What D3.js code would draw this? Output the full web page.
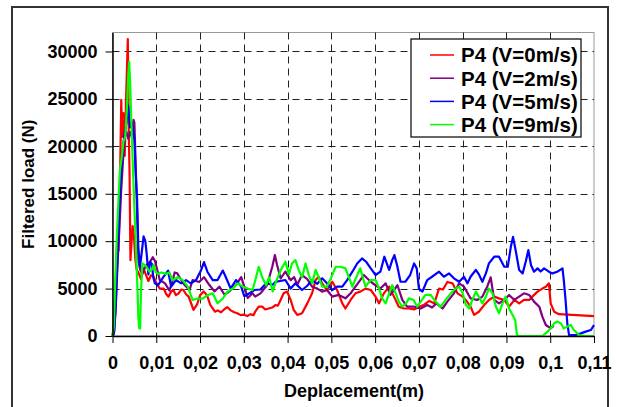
<!DOCTYPE html>
<html>
<head>
<meta charset="utf-8">
<script src="https://cdn.jsdelivr.net/npm/d3@7"></script>
<style>
  body { margin: 0; background: white; }
  text { font-family: "Liberation Sans", Arial, sans-serif; font-weight: bold; fill: black; }
</style>
</head>
<body>
<svg id="chart" width="618" height="407"></svg>
<script>
// values: [deplacement (m), filtered load (N)]
var seriesNames = ["P4 (V=0m/s)", "P4 (V=2m/s)", "P4 (V=5m/s)", "P4 (V=9m/s)"];
var seriesColors = ["#ff0000", "#800080", "#0000ff", "#00ff00"];

var xTicks = [0, 0.01, 0.02, 0.03, 0.04, 0.05, 0.06, 0.07, 0.08, 0.09, 0.1, 0.11];
var xTickLabels = ["0", "0,01", "0,02", "0,03", "0,04", "0,05", "0,06", "0,07", "0,08", "0,09", "0,1", "0,11"];
var yTicks = [0, 5000, 10000, 15000, 20000, 25000, 30000];

var v0 = [[0,0],[0.0004,1500],[0.0008,6000],[0.0011,10500],[0.0014,9000],[0.0017,16000],[0.002,24900],[0.0022,21000],
  [0.0025,23500],[0.0028,19000],[0.0031,25000],[0.0035,31300],[0.0037,22000],[0.0039,17000],[0.0041,8000],[0.0043,9500],
  [0.0046,11600],[0.0049,10500],[0.0052,8200],[0.0055,7000],[0.006,6600],[0.0065,6000],[0.007,7200],[0.0076,6500],
  [0.0082,5800],[0.0088,6400],[0.0094,6260],[0.01,5600],[0.0108,5000],[0.0117,5000],[0.0123,4400],[0.0128,4150],
  [0.0134,4700],[0.0139,4850],[0.0145,4300],[0.0151,4500],[0.0157,4900],[0.0162,4850],[0.0168,4400],[0.0174,4150],
  [0.018,3400],[0.0185,2750],[0.0193,3300],[0.02,4300],[0.0208,4700],[0.0216,4300],[0.0223,3300],[0.0234,2560],
  [0.024,2700],[0.0248,2500],[0.0255,2800],[0.0262,3050],[0.027,2700],[0.0278,2500],[0.0285,2400],[0.0293,2200],
  [0.03,2250],[0.0308,2100],[0.0315,2300],[0.0322,2200],[0.0326,2560],[0.0334,3100],[0.0342,3090],[0.0349,2800],
  [0.0357,2900],[0.0365,3000],[0.0372,3260],[0.0378,3200],[0.0384,3800],[0.0391,4500],[0.0399,4680],[0.0407,3800],
  [0.0414,2750],[0.0422,2220],[0.0433,2400],[0.0445,3440],[0.0456,4500],[0.0464,5900],[0.0471,6250],[0.0479,5550],
  [0.049,4850],[0.0502,5720],[0.0513,4850],[0.0525,3440],[0.0532,2900],[0.0544,3800],[0.0555,4500],[0.0566,4680],
  [0.0578,5000],[0.059,4850],[0.0601,4150],[0.0609,3440],[0.062,4500],[0.0632,5200],[0.0643,4150],[0.0654,3090],
  [0.0666,2900],[0.0677,2900],[0.0689,2800],[0.07,3090],[0.0712,3300],[0.0724,3700],[0.0735,3440],[0.0746,5000],
  [0.0755,4900],[0.0765,5700],[0.0777,5550],[0.0788,4500],[0.08,4150],[0.0807,3800],[0.0818,3090],[0.0826,2220],
  [0.0837,2560],[0.0849,3260],[0.086,3800],[0.0872,4150],[0.0883,3970],[0.0895,3800],[0.0906,3090],[0.0918,3800],
  [0.0929,3440],[0.094,3800],[0.0952,3800],[0.0959,4150],[0.0971,4680],[0.0982,5000],[0.099,5200],[0.0997,5550],
  [0.1001,3440],[0.1009,2560],[0.102,2300],[0.105,2220],[0.11,2100]];

var v2 = [[0,0],[0.0003,200],[0.0007,2500],[0.001,6000],[0.0013,9000],[0.0017,12600],[0.002,15500],[0.0024,18500],
  [0.0028,21000],[0.0032,21500],[0.0036,20800],[0.004,21500],[0.0044,21000],[0.0048,22800],[0.005,22500],[0.0053,18000],
  [0.0056,13300],[0.0059,8000],[0.0063,7000],[0.0068,6500],[0.0074,7200],[0.008,7600],[0.0086,7840],[0.0092,8300],
  [0.0097,7900],[0.0101,7200],[0.0108,5900],[0.012,5550],[0.013,4800],[0.0136,5600],[0.0142,6700],[0.0148,6600],
  [0.0153,6200],[0.0164,5400],[0.0176,4850],[0.0183,5900],[0.0198,5700],[0.0209,6200],[0.0221,5400],[0.0233,4700],
  [0.0244,5200],[0.0256,4350],[0.0267,4700],[0.0282,5400],[0.0294,6200],[0.0301,5200],[0.0309,4000],[0.032,4500],
  [0.0326,4150],[0.0338,4500],[0.0353,5350],[0.0365,7300],[0.0371,8530],[0.0376,7480],[0.0384,6080],[0.0395,6780],
  [0.0407,5900],[0.0415,6200],[0.0422,5400],[0.0433,6430],[0.0445,6000],[0.0456,5200],[0.0468,5000],[0.0479,4680],
  [0.049,4850],[0.0502,4150],[0.0517,4330],[0.0532,3970],[0.0544,4500],[0.0555,5200],[0.0566,5900],[0.0574,6430],
  [0.059,5720],[0.0601,5350],[0.0612,5000],[0.0624,5550],[0.0635,4330],[0.0651,5350],[0.0662,3800],[0.0673,3090],
  [0.0689,3090],[0.0704,2900],[0.0719,3260],[0.073,3000],[0.074,3440],[0.0754,2900],[0.0765,3620],[0.078,4500],
  [0.0792,5550],[0.0803,5200],[0.0818,3970],[0.0833,3800],[0.0845,4150],[0.0856,5200],[0.0864,6180],[0.0872,3800],
  [0.0883,3440],[0.0895,3800],[0.0906,4330],[0.0918,3800],[0.0929,4150],[0.094,4500],[0.0952,4330],[0.0963,3620],
  [0.0975,3090],[0.0982,2040],[0.099,1160],[0.1001,810],[0.1008,1100]];

var v5 = [[0,0],[0.0004,500],[0.0008,4000],[0.0012,9000],[0.0016,14000],[0.002,17500],[0.0024,20000],[0.0028,21500],
  [0.0032,22500],[0.0036,24300],[0.004,22000],[0.0044,22500],[0.0048,21500],[0.005,20700],[0.0053,17000],[0.0056,14700],
  [0.0059,9300],[0.0063,7300],[0.0066,8500],[0.0071,10500],[0.0075,10000],[0.0078,8700],[0.0082,6500],[0.0086,7800],
  [0.009,7600],[0.0093,6200],[0.0097,5550],[0.0104,5350],[0.0116,6200],[0.0127,6900],[0.0134,5200],[0.0145,5900],
  [0.0157,5550],[0.0168,5900],[0.0179,5550],[0.0191,5900],[0.0202,6900],[0.0209,7800],[0.0217,6750],[0.0229,5900],
  [0.024,5900],[0.0252,6900],[0.0259,6200],[0.027,5000],[0.0282,5900],[0.0294,5200],[0.0301,4200],[0.0313,4500],
  [0.0324,4850],[0.0338,4900],[0.0351,5550],[0.0366,5400],[0.0372,5700],[0.0395,5900],[0.0407,5000],[0.0418,5550],
  [0.0433,4850],[0.0445,5300],[0.0456,5900],[0.0468,5500],[0.0479,6080],[0.049,5550],[0.0502,4850],[0.0513,5200],
  [0.0525,5200],[0.0536,5900],[0.0548,6780],[0.0559,7650],[0.057,8180],[0.058,7800],[0.059,7130],[0.0601,6430],
  [0.0612,6780],[0.0621,8360],[0.0632,6960],[0.0639,8000],[0.0644,8530],[0.065,7480],[0.0658,5720],[0.0669,5720],
  [0.068,6430],[0.0689,7650],[0.0695,7130],[0.07,5000],[0.0708,4680],[0.0719,5900],[0.073,6250],[0.0746,6780],
  [0.0757,6250],[0.0769,6600],[0.078,6080],[0.0792,5720],[0.0803,6250],[0.0811,5550],[0.0818,6250],[0.083,6960],
  [0.0837,6500],[0.0845,5720],[0.0853,6600],[0.086,7650],[0.0872,8360],[0.0883,8360],[0.0895,7300],[0.0903,7300],
  [0.091,9400],[0.0915,10450],[0.0921,9050],[0.0929,6960],[0.0937,6600],[0.0944,7830],[0.095,9050],[0.0956,7480],
  [0.0963,6780],[0.0971,7130],[0.0978,6800],[0.0986,7130],[0.0997,6780],[0.1005,6600],[0.1016,6780],[0.1028,7130],
  [0.1031,5900],[0.1035,3800],[0.1039,1340],[0.1043,100],[0.1058,100],[0.107,280],[0.1081,460],[0.1093,630],[0.11,1160]];

var v9 = [[0,0],[0.0003,1000],[0.0006,5550],[0.001,10500],[0.0014,14700],[0.0017,17500],[0.0021,18800],[0.0025,20500],
  [0.0029,21000],[0.0033,24000],[0.0036,27500],[0.0038,28900],[0.004,27000],[0.0042,24000],[0.0045,20000],[0.0047,17300],
  [0.005,13500],[0.0052,11200],[0.0055,7500],[0.0057,5000],[0.0059,2000],[0.0061,800],[0.0063,800],[0.0065,4500],
  [0.0068,7650],[0.0073,7500],[0.0078,7300],[0.0084,6800],[0.009,7000],[0.0094,7500],[0.0099,6700],[0.0104,6550],
  [0.0111,6700],[0.0122,6550],[0.013,6700],[0.0137,5900],[0.0149,6200],[0.016,5900],[0.0172,5200],[0.0183,3800],
  [0.0195,3950],[0.0206,3950],[0.0217,4300],[0.0229,4500],[0.024,3450],[0.0252,3950],[0.0263,4700],[0.0275,5000],
  [0.0286,5550],[0.0298,5200],[0.0309,5000],[0.032,4850],[0.0328,6200],[0.0334,7300],[0.0343,6080],[0.0351,5350],
  [0.0358,6200],[0.0366,4700],[0.0374,5800],[0.0385,7000],[0.0395,7830],[0.0403,6500],[0.041,7650],[0.0418,8000],
  [0.0425,7000],[0.0433,6200],[0.0441,7650],[0.0448,6500],[0.0456,5550],[0.0464,6960],[0.0471,6200],[0.0479,5200],
  [0.049,5200],[0.0498,6000],[0.051,7300],[0.0521,7300],[0.0532,7130],[0.054,6200],[0.0548,5200],[0.0555,6000],
  [0.0566,7130],[0.0578,5200],[0.059,5900],[0.0601,5900],[0.0609,5000],[0.0616,3970],[0.0624,3440],[0.0632,4500],
  [0.0639,5350],[0.0647,4500],[0.0654,3620],[0.0662,3090],[0.067,3400],[0.0677,3970],[0.0688,3800],[0.0696,3090],
  [0.0704,3620],[0.0715,4330],[0.0727,4330],[0.0738,3620],[0.075,3090],[0.0761,3800],[0.0773,4500],[0.0784,5000],
  [0.0792,5200],[0.08,4500],[0.0807,3300],[0.0815,2900],[0.0822,3800],[0.083,4680],[0.0837,4150],[0.0845,3440],
  [0.0853,4150],[0.086,5000],[0.0868,4500],[0.0876,3090],[0.0883,2400],[0.0891,3440],[0.0898,4150],[0.0906,2900],
  [0.0914,2220],[0.092,1690],[0.0924,100],[0.0929,0],[0.0982,0],[0.0994,460],[0.1001,810],[0.1009,1340],[0.1016,1520],
  [0.1024,1340],[0.1031,810],[0.1039,980],[0.1047,1160],[0.1054,630],[0.1066,100],[0.1081,0],[0.11,0]];

var allSeries = [v0, v2, v5, v9];

var svg = d3.select("#chart");
var plotLeft = 112.5, plotRight = 594, plotTop = 32.5, plotBottom = 336;

// outer frame
svg.append("rect")
    .attr("x", 12).attr("y", 7)
    .attr("width", 596).attr("height", 420)
    .attr("fill", "white")
    .style("stroke", "#333")
    .style("stroke-width", 2);

var x = d3.scaleLinear().domain([0, 0.11]).range([plotLeft, plotRight]);
var y = d3.scaleLinear().domain([0, 32000]).range([plotBottom, plotTop]);

// plot border
svg.append("rect")
    .attr("x", plotLeft).attr("y", plotTop)
    .attr("width", plotRight - plotLeft).attr("height", plotBottom - plotTop)
    .attr("fill", "white")
    .style("stroke", "#999")
    .style("stroke-width", 1);

// dashed grid
var grid = svg.append("g");
grid.selectAll(".vg").data(xTicks.slice(1, -1)).enter().append("line")
    .attr("x1", function(d) { return Math.round(x(d)) + 0.5; })
    .attr("x2", function(d) { return Math.round(x(d)) + 0.5; })
    .attr("y1", plotTop).attr("y2", plotBottom)
    .style("stroke", "#222").style("stroke-dasharray", "7,5");
grid.selectAll(".hg").data(yTicks.slice(1)).enter().append("line")
    .attr("x1", plotLeft).attr("x2", plotRight)
    .attr("y1", function(d) { return Math.round(y(d)) + 0.5; })
    .attr("y2", function(d) { return Math.round(y(d)) + 0.5; })
    .style("stroke", "#222").style("stroke-dasharray", "7,5");

// series
var line = d3.line()
    .x(function(d) { return x(d[0]); })
    .y(function(d) { return y(d[1]); });

allSeries.forEach(function(s, i) {
  svg.append("path")
      .datum(s)
      .attr("d", line)
      .attr("fill", "none")
      .style("stroke", seriesColors[i])
      .style("stroke-width", 2.2)
      .style("stroke-linejoin", "round");
});

// axes
var xAxis = svg.append("g")
    .attr("transform", "translate(0," + plotBottom + ")")
    .call(d3.axisBottom(x).tickValues(xTicks).tickSize(7).tickSizeOuter(0)
      .tickFormat(function(d, i) { return xTickLabels[i]; }));
xAxis.selectAll("text").attr("y", 33).attr("dy", 0).style("font-size", "18px");

var yAxis = svg.append("g")
    .attr("transform", "translate(" + plotLeft + ",0)")
    .call(d3.axisLeft(y).tickValues(yTicks).tickSize(7).tickSizeOuter(0)
      .tickFormat(d3.format("d")));
yAxis.selectAll("text").attr("x", -15).style("font-size", "18px");

svg.selectAll(".domain").style("stroke", "black").style("stroke-width", 1.5);
svg.selectAll(".tick line").style("stroke", "black");

// axis titles
svg.append("text")
    .text("Deplacement(m)")
    .attr("x", 354).attr("y", 397)
    .attr("text-anchor", "middle")
    .style("font-size", "18px");

svg.append("text")
    .text("Filtered load (N)")
    .attr("transform", "translate(34," + (plotTop + plotBottom) / 2 + ") rotate(-90)")
    .attr("text-anchor", "middle")
    .style("font-size", "17px");

// legend
var legend = svg.append("g").attr("transform", "translate(411,39)");
legend.append("rect")
    .attr("width", 170).attr("height", 98)
    .attr("fill", "white")
    .style("stroke", "black").style("stroke-width", 1.2);

seriesNames.forEach(function(name, i) {
  var row = legend.append("g").attr("transform", "translate(0," + (16 + i * 23.2) + ")");
  row.append("line")
      .attr("x1", 19).attr("x2", 43)
      .style("stroke", seriesColors[i]).style("stroke-width", 1.5);
  row.append("text")
      .text(name)
      .attr("x", 50).attr("dy", "0.36em")
      .style("font-size", "20.5px");
});
</script>
</body>
</html>
